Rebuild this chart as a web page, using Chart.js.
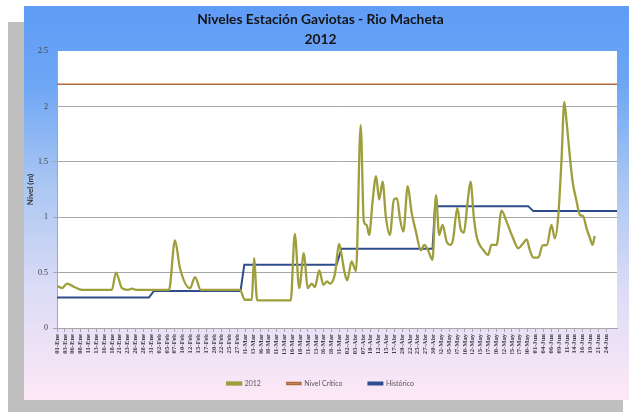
<!DOCTYPE html>
<html><head><meta charset="utf-8">
<script src="https://cdn.jsdelivr.net/npm/chart.js@4.4.1/dist/chart.umd.min.js"></script>
<style>
html,body{margin:0;padding:0;background:#fff;width:629px;height:412px;overflow:hidden}
#shadow{position:absolute;left:8px;top:22px;width:615px;height:390px;background:#bfbfbf}
#wrap{position:absolute;left:24px;top:6px;width:605px;height:394px}
</style></head><body>
<div id="shadow"></div>
<div id="wrap"><canvas id="c" width="605" height="394"></canvas></div>
<script>
// Tick labels (one every 2.5 days, starting 01-Ene 2012)
const xTickLabels = [
 '01-Ene','03-Ene','06-Ene','08-Ene','11-Ene','13-Ene','16-Ene','18-Ene','21-Ene','23-Ene','26-Ene','28-Ene','31-Ene',
 '02-Feb','05-Feb','07-Feb','10-Feb','12-Feb','15-Feb','17-Feb','20-Feb','22-Feb','25-Feb','27-Feb',
 '01-Mar','03-Mar','06-Mar','08-Mar','11-Mar','13-Mar','16-Mar','18-Mar','21-Mar','23-Mar','26-Mar','28-Mar','31-Mar',
 '02-Abr','05-Abr','07-Abr','10-Abr','12-Abr','15-Abr','17-Abr','20-Abr','22-Abr','25-Abr','27-Abr','30-Abr',
 '02-May','05-May','07-May','10-May','12-May','15-May','17-May','20-May','22-May','25-May','27-May','30-May',
 '01-Jun','04-Jun','06-Jun','09-Jun','11-Jun','14-Jun','16-Jun','19-Jun','21-Jun','24-Jun','26-Jun'
];
const yTicks = [0, 0.5, 1, 1.5, 2, 2.5];
const yTickLabels = ['0', '0.5', '1', '1.5', '2', '2.5'];

// Serie 2012: day of year (0 = 01-Ene) and level (m)
const dias2012 = [0,1.6,3.2,5.5,8,17.5,18.8,20.7,22.6,23.9,25.2,35.7,37.6,39.2,42.4,44.0,45.8,58.3,59.9,62.1,62.8,63.8,74.5,75.8,77.2,78.7,79.9,81.2,82.2,83.6,84.9,86.1,87.0,88.6,89.9,90.7,91.6,92.5,93.9,95.3,96.8,97.8,98.7,99.5,100.6,101.7,102.7,103.8,104.8,106.1,107.4,108.4,109.3,110.4,111.8,113.0,114.4,116.0,117.1,118.3,119.7,120.8,121.8,122.9,124.2,125.5,126.3,127.6,128.6,129.7,130.8,131.8,132.9,133.9,135.9,137.4,138.5,140.1,141.7,143.3,145.4,147.0,148.6,149.7,150.7,151.8,153.4,154.8,156.2,157.6,158.7,159.8,160.8,161.7,162.4,163.5,164.3,165.6,166.7,167.7,168.8,169.9,170.7,171.4];
const nivel2012 = [0.38,0.36,0.40,0.37,0.345,0.345,0.50,0.36,0.345,0.355,0.345,0.345,0.79,0.54,0.36,0.46,0.345,0.345,0.255,0.255,0.63,0.25,0.25,0.85,0.36,0.675,0.36,0.40,0.37,0.52,0.39,0.42,0.40,0.49,0.76,0.66,0.51,0.43,0.60,0.515,1.83,0.96,0.93,0.84,1.145,1.37,1.16,1.32,1.01,0.84,1.16,1.17,0.99,0.87,1.28,1.05,0.87,0.70,0.75,0.70,0.615,1.2,0.84,0.93,0.78,0.75,0.81,1.085,0.90,0.86,1.115,1.32,0.99,0.81,0.705,0.66,0.75,0.75,1.06,0.96,0.81,0.72,0.765,0.80,0.705,0.635,0.635,0.745,0.75,0.93,0.81,1.02,1.51,2.04,1.87,1.54,1.33,1.145,1.02,1.01,0.90,0.81,0.75,0.83];

// Histórico (monthly levels)
const diasHistorico = [0,29.3,30.9,58.5,59.7,89.1,90.7,119.7,120.5,150.2,151.8,178.5];
const historico = [0.275,0.275,0.335,0.335,0.57,0.57,0.715,0.715,1.1,1.1,1.055,1.055];

// Nivel crítico
const diasCritico = [0,178.5];
const nivelCritico = [2.2,2.2];

const toPts = (xs, ys) => xs.map((x, i) => ({x: x, y: ys[i]}));

const bgPlugin = {
  id: 'bg',
  beforeDraw(chart) {
    const {ctx, width, height, chartArea: a} = chart;
    const g = ctx.createLinearGradient(0, 0, 0, height);
    g.addColorStop(0, '#5f9cf6');
    g.addColorStop(0.2, '#6ea6f5');
    g.addColorStop(0.45, '#a9c6f2');
    g.addColorStop(0.72, '#dcdcf6');
    g.addColorStop(1, '#fde8f6');
    ctx.save();
    ctx.fillStyle = g;
    ctx.fillRect(0, 0, width, height);
    ctx.fillStyle = '#ffffff';
    ctx.fillRect(a.left, a.top, a.right - a.left, a.bottom - a.top);
    ctx.restore();
  }
};

new Chart(document.getElementById('c'), {
  type: 'line',
  data: {
    datasets: [
      {label: '2012', data: toPts(dias2012, nivel2012), borderColor: '#9e9e3c', backgroundColor: '#c8c07a',
       borderWidth: 2.3, pointRadius: 0, cubicInterpolationMode: 'monotone', fill: false},
      {label: 'Nivel Crítico', data: toPts(diasCritico, nivelCritico), borderColor: '#b06a38', backgroundColor: '#c89a88',
       borderWidth: 1.5, pointRadius: 0, fill: false},
      {label: 'Histórico', data: toPts(diasHistorico, historico), borderColor: '#2f4d8c', backgroundColor: '#6a7db0',
       borderWidth: 2, pointRadius: 0, tension: 0, fill: false}
    ]
  },
  options: {
    responsive: false, animation: false, devicePixelRatio: 1,
    layout: {padding: {left: 0, right: 12, top: 0, bottom: 3}},
    plugins: {
      title: {display: true, text: ['Niveles Estación Gaviotas - Rio Macheta', '2012'],
        font: {family: 'Lato', size: 13.8, weight: 'bold', lineHeight: 1.45}, color: '#141414',
        padding: {top: 4, bottom: 1}},
      legend: {position: 'bottom',
        labels: {boxWidth: 14, boxHeight: 2, font: {family: 'Lato', size: 7}, color: '#595959', padding: 26}},
      tooltip: {enabled: false}
    },
    scales: {
      x: {type: 'linear', min: 0, max: 178.5,
        afterFit: s => { s.height = 26; },
        ticks: {stepSize: 2.5, autoSkip: false, maxRotation: 90, minRotation: 90, padding: 2,
          font: {family: 'Liberation Serif', size: 6.6, weight: 'bold'}, color: '#404040',
          callback: v => { const i = Math.round(v / 2.5); return (Math.abs(v - i * 2.5) < 1e-6 && i < xTickLabels.length) ? xTickLabels[i] : null; }},
        grid: {drawOnChartArea: false, tickLength: 4, color: '#a6a6a6'},
        border: {color: '#a6a6a6'}
      },
      y: {min: 0, max: 2.5,
        afterFit: s => { s.width = 33; },
        afterBuildTicks: s => { s.ticks = yTicks.map(v => ({value: v})); },
        ticks: {font: {family: 'Liberation Serif', size: 8}, color: '#404040', padding: 5,
          callback: v => { const i = yTicks.indexOf(v); return i >= 0 ? yTickLabels[i] : null; }},
        grid: {color: c => (c.tick && c.tick.value === 2.5) ? 'rgba(0,0,0,0)' : '#a6a6a6', tickLength: 4},
        border: {color: '#a6a6a6'},
        title: {display: true, text: 'Nivel (m)', font: {family: 'Lato', size: 8, weight: 'bold'}, color: '#333', padding: {top: 2, bottom: 0}}
      }
    }
  },
  plugins: [bgPlugin]
});
</script>
</body></html>
